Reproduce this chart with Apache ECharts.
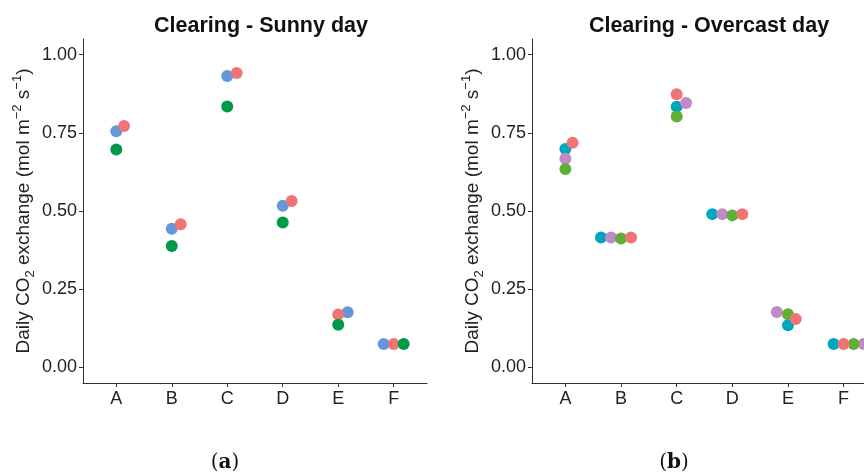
<!DOCTYPE html>
<html lang="en">
	<head>
		<meta charset="UTF-8">
		<title>Clearing - daily CO2 exchange</title>
		<script src="https://cdn.jsdelivr.net/npm/echarts@6.0.0/dist/echarts.min.js" type="text/javascript"></script>
		<style>
			html, body { margin: 0; padding: 0; background: #fff; }
			#main { width: 864px; height: 472px; }
		</style>
	</head>
	<body>
		<div id="main"></div>
		<script type="text/javascript">
			// categories and tick labels
			var categories = ['A', 'B', 'C', 'D', 'E', 'F'];
			var yTicks = [0, 0.25, 0.5, 0.75, 1];

			// (a) Sunny day
			var sunnyBlue = [0.755, 0.443, 0.932, 0.517, 0.176, 0.075];
			var sunnyRed = [0.772, 0.458, 0.941, 0.532, 0.169, 0.075];
			var sunnyGreen = [0.697, 0.388, 0.834, 0.463, 0.136, 0.075];

			// (b) Overcast day
			var overCyan = [0.698, 0.415, 0.833, 0.490, 0.135, 0.075];
			var overPurple = [0.667, 0.415, 0.845, 0.490, 0.177, 0.075];
			var overGreen = [0.634, 0.412, 0.802, 0.486, 0.170, 0.075];
			var overRed = [0.718, 0.415, 0.873, 0.490, 0.155, 0.075];

			// horizontal dodge of the points, in category units
			var dodgeSunnyBlue = [0, 0, 0, 0, 0.17, -0.18];
			var dodgeSunnyRed = [0.14, 0.16, 0.17, 0.16, 0, 0];
			var dodgeSunnyGreen = [0, 0, 0, 0, 0, 0.18];
			var dodgeOverCyan = [0, -0.36, 0, -0.36, 0, -0.18];
			var dodgeOverPurple = [0, -0.18, 0.17, -0.18, -0.2, 0.36];
			var dodgeOverGreen = [0, 0, 0, 0, 0, 0.18];
			var dodgeOverRed = [0.13, 0.18, 0, 0.18, 0.14, 0];

			function points(values, dodge) {
				return values.map(function(v, i) {
					return [i + 1 + dodge[i], v];
				});
			}

			function dots(name, idx, values, dodge, color) {
				return {
					name: name,
					type: 'scatter',
					xAxisIndex: idx,
					yAxisIndex: idx,
					symbolSize: 12,
					clip: false,
					itemStyle: { color: color, opacity: 1 },
					data: points(values, dodge)
				};
			}

			var axisColor = '#333';
			var textColor = '#222';
			var font = 'Liberation Sans, Arial, sans-serif';

			function xAxis(idx) {
				return {
					type: 'value',
					gridIndex: idx,
					min: 0.4,
					max: 6.6,
					splitLine: { show: false },
					axisLine: { onZero: false, lineStyle: { color: axisColor, width: 1 } },
					axisTick: { customValues: [1, 2, 3, 4, 5, 6], length: 4, lineStyle: { color: axisColor } },
					axisLabel: {
						customValues: [1, 2, 3, 4, 5, 6],
						margin: 7,
						color: textColor,
						fontSize: 18,
						fontFamily: font,
						formatter: function(v) { return categories[Math.round(v) - 1]; }
					}
				};
			}

			function yAxis(idx) {
				return {
					type: 'value',
					gridIndex: idx,
					min: -0.05,
					max: 1.05,
					splitLine: { show: false },
					axisLine: { show: true, lineStyle: { color: axisColor, width: 1 } },
					axisTick: { show: true, customValues: yTicks, length: 4, lineStyle: { color: axisColor } },
					axisLabel: {
						customValues: yTicks,
						margin: 6,
						color: textColor,
						fontSize: 18,
						fontFamily: font,
						formatter: function(v) { return v.toFixed(2); }
					},
					name: 'Daily CO{sub|2} exchange (mol m{sup|\u22122} s{sup|\u22121})',
					nameLocation: 'middle',
					nameGap: 46,
					nameTextStyle: {
						color: textColor,
						fontSize: 19,
						fontFamily: font,
						lineHeight: 26,
						rich: {
							sub: { fontSize: 13, fontFamily: font, color: textColor, verticalAlign: 'bottom', lineHeight: 13 },
							sup: { fontSize: 13, fontFamily: font, color: textColor, verticalAlign: 'top', lineHeight: 13 }
						}
					}
				};
			}

			var myChart = echarts.init(document.getElementById('main'), null, { renderer: 'canvas' });
			var option = {
				backgroundColor: '#fff',
				animation: false,
				title: [{
						text: 'Clearing - Sunny day',
						left: 256,
						top: 10,
						textAlign: 'center',
						textStyle: { fontSize: 21.5, fontWeight: 'bold', color: '#111', fontFamily: font }
					},
					{
						text: 'Clearing - Overcast day',
						left: 704,
						top: 10,
						textAlign: 'center',
						textStyle: { fontSize: 21.5, fontWeight: 'bold', color: '#111', fontFamily: font }
					},
					{
						text: '({b|a})',
						left: 220,
						top: 448,
						textAlign: 'center',
						textStyle: {
							fontSize: 20, fontWeight: 'normal', color: '#111', fontFamily: 'DejaVu Serif, serif',
							rich: { b: { fontSize: 20, fontWeight: 'bold', color: '#111', fontFamily: 'DejaVu Serif, serif' } }
						}
					},
					{
						text: '({b|b})',
						left: 669,
						top: 448,
						textAlign: 'center',
						textStyle: {
							fontSize: 20, fontWeight: 'normal', color: '#111', fontFamily: 'DejaVu Serif, serif',
							rich: { b: { fontSize: 20, fontWeight: 'bold', color: '#111', fontFamily: 'DejaVu Serif, serif' } }
						}
					}
				],
				grid: [
					{ left: 83, top: 39, width: 344, height: 344, outerBoundsMode: 'none', containLabel: false },
					{ left: 532, top: 39, width: 345, height: 344, outerBoundsMode: 'none', containLabel: false }
				],
				xAxis: [xAxis(0), xAxis(1)],
				yAxis: [yAxis(0), yAxis(1)],
				series: [
					dots('Sunny 1', 0, sunnyBlue, dodgeSunnyBlue, '#6098DA'),
					dots('Sunny 2', 0, sunnyRed, dodgeSunnyRed, '#F07474'),
					dots('Sunny 3', 0, sunnyGreen, dodgeSunnyGreen, '#00994A'),
					dots('Overcast 1', 1, overCyan, dodgeOverCyan, '#00A5BF'),
					dots('Overcast 2', 1, overPurple, dodgeOverPurple, '#C388C7'),
					dots('Overcast 3', 1, overGreen, dodgeOverGreen, '#5FAE36'),
					dots('Overcast 4', 1, overRed, dodgeOverRed, '#F07474')
				]
			};
			myChart.setOption(option);
		</script>
	</body>
</html>
